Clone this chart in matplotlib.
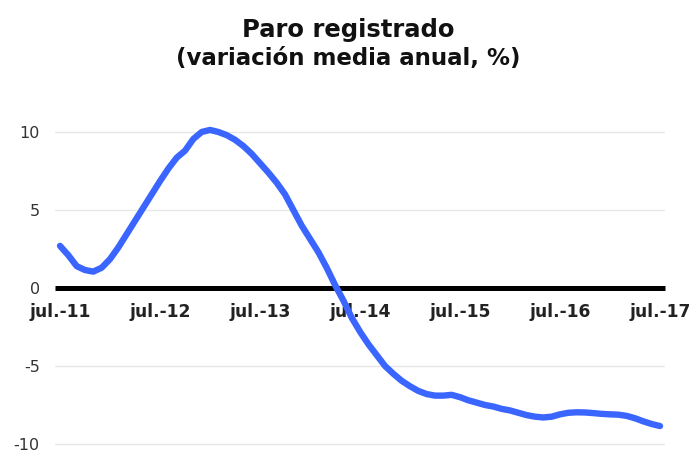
import numpy as np
import matplotlib
matplotlib.use("Agg")
import matplotlib.pyplot as plt

plt.rcParams['font.family'] = ['DejaVu Sans']

# monthly values, jul-2011 .. jul-2017
paro = [2.7, 2.1, 1.4, 1.15, 1.05, 1.3, 1.85, 2.6, 3.45, 4.3, 5.15, 6.0,
        6.85, 7.65, 8.35, 8.8, 9.55, 10.0, 10.13, 10.0, 9.8, 9.5, 9.1, 8.6,
        8.0, 7.4, 6.75, 6.0, 5.0, 4.0, 3.15, 2.3, 1.3, 0.2, -0.8, -1.9,
        -2.8, -3.6, -4.3, -5.0, -5.5, -5.95, -6.3, -6.6, -6.8, -6.9, -6.9, -6.85,
        -7.0, -7.2, -7.35, -7.5, -7.6, -7.75, -7.85, -8.0, -8.15, -8.25, -8.3, -8.25,
        -8.1, -8.0, -7.97, -7.98, -8.02, -8.07, -8.1, -8.12, -8.2, -8.35, -8.55, -8.72,
        -8.85]
x_labels = ['jul.-11', 'jul.-12', 'jul.-13', 'jul.-14', 'jul.-15', 'jul.-16', 'jul.-17']
y_ticks = [-10, -5, 0, 5, 10]

fig = plt.figure(figsize=(6.96, 4.51), dpi=100, facecolor='white')
ax = fig.add_axes([55 / 696, 0.0, 610 / 696, 1 - 100 / 451])

# spine first: moving it resets the tick styling
ax.spines['bottom'].set_position(('data', 0))
ax.spines['bottom'].set_linewidth(3.6)
ax.spines['bottom'].set_color('black')
ax.spines['bottom'].set_capstyle('butt')
ax.spines['bottom'].set_zorder(2)
for s in ['top', 'right', 'left']:
    ax.spines[s].set_visible(False)

months = np.arange(len(paro))
ax.plot(months, paro, color='#3a66ff', linewidth=4.6, solid_capstyle='round', zorder=3)

ax.set_xlim(-0.6, 72.6)
ax.set_ylim(-10.45, 12.05)

ax.set_yticks(y_ticks)
ax.set_yticklabels([str(v) for v in y_ticks], fontsize=11.5, color='#333333')
ax.yaxis.grid(True, color='#e6e6e6', linewidth=0.9)
ax.set_axisbelow(True)
ax.tick_params(axis='y', length=0, pad=11)

ax.set_xticks(np.arange(0, 73, 12))
ax.set_xticklabels(x_labels, fontsize=12.3, fontweight='bold', color='#222222')
ax.tick_params(axis='x', length=0, pad=11)

fig.text(0.5, 1 - 37 / 451, 'Paro registrado', ha='center', va='baseline',
         fontsize=17.5, fontweight='bold', color='#111111')
fig.text(0.5, 1 - 65 / 451, '(variación media anual, %)', ha='center', va='baseline',
         fontsize=16.5, fontweight='bold', color='#111111')

fig.savefig('out.png', dpi=100, facecolor='white')
